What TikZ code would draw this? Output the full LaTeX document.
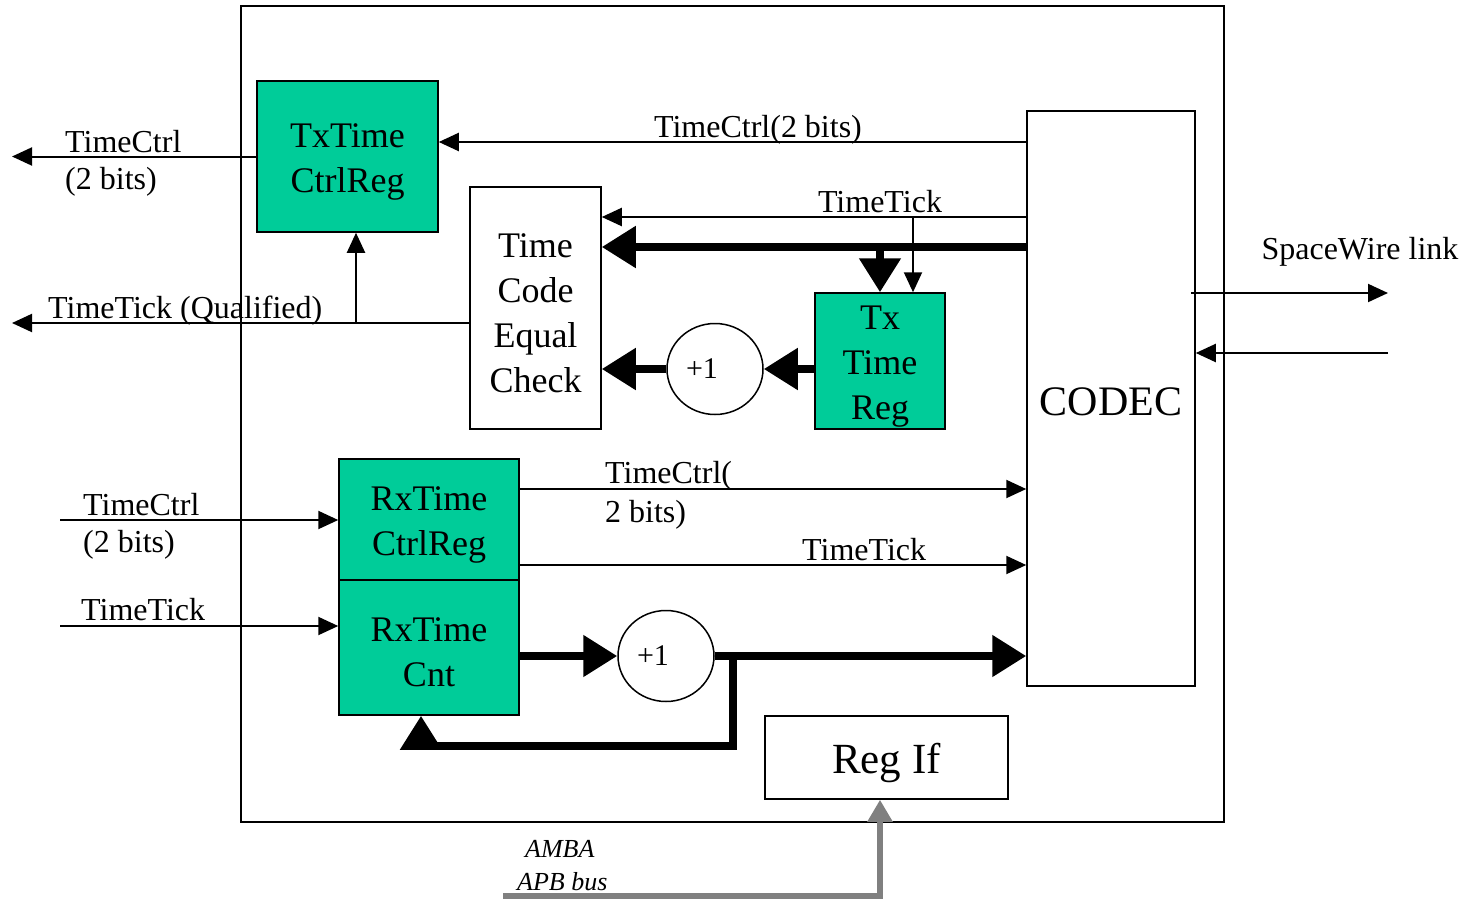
\documentclass[tikz,border=0pt]{standalone}
\usepackage{fontspec}
\setmainfont{Liberation Serif}
\usepackage{tikz}
\usetikzlibrary{shapes.geometric, positioning, arrows.meta, calc}
\definecolor{RegGreen}{RGB}{0,204,153}
\definecolor{BusGray}{RGB}{128,128,128}
\newcommand{\boxstrut}[1][34pt]{\rule{0pt}{#1}}

\begin{document}
\begin{tikzpicture}[x=1pt, y=-1pt,
          blk/.style={draw, line width=1.5pt, inner sep=0pt, align=center,
                      font=\fontsize{36}{45}\selectfont},
          reg/.style={blk, fill=RegGreen},
          inc/.style={ellipse, draw, line width=1.5pt, minimum width=96pt,
                      minimum height=91pt, inner sep=0pt,
                      font=\fontsize{30}{36}\selectfont},
          sig/.style={line width=2pt, -{Triangle[length=20pt, width=18pt]}},
          bus/.style={line width=8pt, -{Triangle[length=34pt, width=40pt]}},
          apb/.style={line width=6pt, BusGray,
                      -{Triangle[length=22pt, width=24pt]}},
          lbl/.style={font=\fontsize{32}{38}\selectfont, inner sep=0pt,
                      anchor=base west}
        ]
        \useasboundingbox (0,0) rectangle (1476,900);

        % core frame
        \node[draw, line width=2pt, minimum width=983pt, minimum height=816pt,
              inner sep=0pt] (core) at (732.5,414) {};

        % Transmit side
        \node[reg, minimum width=181pt, minimum height=151pt]
              (txctrl) at (347.5,156.5) {\boxstrut TxTime\\CtrlReg};
        \node[blk, minimum width=131pt, minimum height=242pt]
              (tcec) at (535.5,308) {\boxstrut Time\\Code\\Equal\\Check};
        \node[reg, minimum width=130pt, minimum height=136pt]
              (txreg) at (880,361) {\boxstrut Tx\\Time\\Reg};
        \node[inc] (inctx) at (715,369) {+1\kern26pt};
        \node[blk, minimum width=168pt, minimum height=575pt,
              font=\fontsize{42}{50}\selectfont]
              (codec) at (1111,398.5) {\boxstrut CODEC};

        % Receive side
        \node[reg, minimum width=180pt, minimum height=121pt]
              (rxctrl) at (429,519.5) {\boxstrut RxTime\\CtrlReg};
        \node[reg, minimum width=180pt, minimum height=135pt]
              (rxcnt) at (429,647.5) {\boxstrut RxTime\\Cnt};
        \node[inc] (incrx) at (666,656) {+1\kern26pt};
        \node[blk, minimum width=243pt, minimum height=83pt,
              font=\fontsize{43}{50}\selectfont]
              (regif) at (886.5,757.5) {\boxstrut[41pt]Reg If};

        % signal rows and columns
        \foreach \n/\x/\y in {
          rTxc/0/142, rTick/0/217, rBus/0/247, rQual/0/323,
          rSw1/0/293, rSw2/0/353, rRxc/0/489, rRxt/0/565,
          cTick/913/0, cBus/880/0, cQual/356/0} {
          \coordinate (\n) at (\x, \y);
        }
        \coordinate (txcOut) at (12,156.5);
        \coordinate (qualOut) at (12,323);
        \coordinate (swOut) at (1388,293);
        \coordinate (swIn) at (1388,353);
        \coordinate (inTc) at (60,520);
        \coordinate (inTt) at (60,626);
        \coordinate (fbTap) at (733,656);
        \coordinate (fbTurn) at (421,746);
        \coordinate (apbIn) at (503,896);
        \coordinate (apbTurn) at (880,896);

        % Tx connections
        \draw[sig] (codec.west |- rTxc) -- (txctrl.east |- rTxc);
        \draw[sig] (txctrl.west) -- (txcOut);
        \draw[sig] (codec.west |- rTick) -- (tcec.east |- rTick);
        \draw[sig] (cTick |- rTick) -- (cTick |- txreg.north);
        \draw[bus] (codec.west |- rBus) -- (tcec.east |- rBus);
        \draw[bus] (cBus |- rBus) -- (cBus |- txreg.north);
        \draw[bus] (txreg.west |- inctx) -- (inctx.east);
        \draw[bus] (inctx.west) -- (tcec.east |- inctx);
        \draw[sig] (tcec.west |- rQual) -- (qualOut);
        \draw[sig] (cQual |- rQual) -- (cQual |- txctrl.south);

        % SpaceWire link
        \draw[sig] ([xshift=-5pt]codec.east |- rSw1) -- (swOut);
        \draw[sig] (swIn) -- (codec.east |- rSw2);

        % Rx connections
        \draw[sig] (inTc) -- (rxctrl.west |- inTc);
        \draw[sig] (inTt) -- (rxcnt.west |- inTt);
        \draw[sig] (rxctrl.east |- rRxc) -- (codec.west |- rRxc);
        \draw[sig] (rxctrl.east |- rRxt) -- (codec.west |- rRxt);
        \draw[bus] (rxcnt.east |- incrx) -- (incrx.west);
        \draw[bus] (incrx.east) -- (codec.west |- incrx);
        \draw[bus] (fbTap) |- (fbTurn) -- (fbTurn |- rxcnt.south);

        % APB bus
        \draw[apb] (apbIn) -- (apbTurn) -- (apbTurn |- regif.south);

        % labels
        \foreach \n/\x/\y/\t in {
          lTxcA/65/152/TimeCtrl, lTxcB/65/189/(2 bits),
          lQual/48/318/TimeTick (Qualified),
          lRxcA/83/515/TimeCtrl, lRxcB/83/552/(2 bits),
          lRxt/81/620/TimeTick,
          lCodA/605/483/TimeCtrl(, lCodB/605/522/2 bits),
          lCodT/802/560/TimeTick} {
          \node[lbl] (\n) at (\x, \y) {\t};
        }
        \node[lbl, anchor=base] (lTxc) at (758,137) {TimeCtrl(2 bits)};
        \node[lbl, anchor=base] (lTick) at (880,212) {TimeTick};
        \node[lbl, anchor=base] (lSw) at (1360,259) {SpaceWire link};
        \node[lbl, font=\fontsize{26}{30}\selectfont\itshape]
              (lAmba) at (525,857) {AMBA};
        \node[lbl, font=\fontsize{26}{30}\selectfont\itshape]
              (lApb) at (517,890) {APB bus};
      \end{tikzpicture}
\end{document}
